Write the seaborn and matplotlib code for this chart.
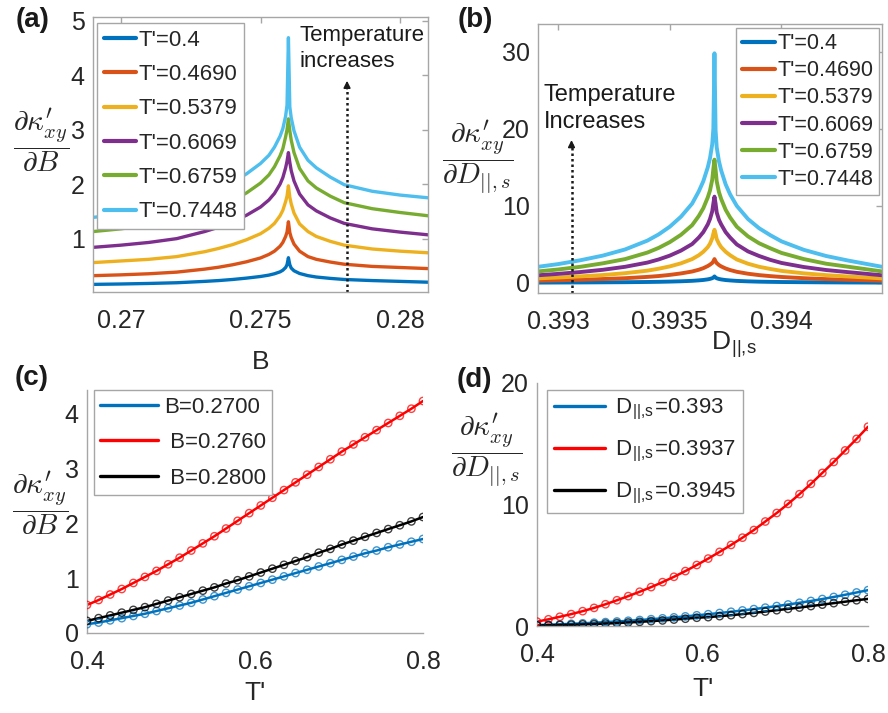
import matplotlib
matplotlib.use('Agg')
import matplotlib.pyplot as plt
import seaborn as sns

# ---------------- data ----------------
# panel (a): d kappa / dB vs B for six temperatures
B_grid = [0.269, 0.270, 0.271, 0.272, 0.273, 0.2735, 0.274, 0.2745, 0.275, 0.2753,
          0.2755, 0.2757, 0.2758, 0.2759, 0.27595, 0.2760, 0.27605, 0.2761, 0.2762,
          0.2764, 0.2767, 0.277, 0.2775, 0.278, 0.279, 0.280, 0.281]
a_T0400 = [0.16, 0.167, 0.177, 0.19, 0.215, 0.23, 0.25, 0.275, 0.305, 0.33, 0.355, 0.39,
           0.42, 0.47, 0.52, 0.65, 0.52, 0.46, 0.41, 0.36, 0.32, 0.295, 0.27, 0.25, 0.23,
           0.215, 0.20]
a_T0469 = [0.32, 0.335, 0.355, 0.385, 0.44, 0.475, 0.52, 0.575, 0.645, 0.71, 0.77, 0.86,
           0.93, 1.04, 1.12, 1.31, 1.11, 1.02, 0.90, 0.77, 0.67, 0.62, 0.57, 0.53, 0.49,
           0.47, 0.45]
a_T0538 = [0.56, 0.59, 0.62, 0.67, 0.76, 0.82, 0.89, 0.98, 1.09, 1.19, 1.28, 1.42, 1.52,
           1.68, 1.78, 1.97, 1.76, 1.64, 1.47, 1.27, 1.13, 1.04, 0.95, 0.88, 0.81, 0.77,
           0.74]
a_T0607 = [0.84, 0.88, 0.93, 1.00, 1.13, 1.21, 1.31, 1.43, 1.58, 1.71, 1.83, 2.00, 2.12,
           2.30, 2.42, 2.58, 2.40, 2.25, 2.06, 1.82, 1.62, 1.51, 1.38, 1.28, 1.18, 1.12,
           1.07]
a_T0676 = [1.13, 1.18, 1.25, 1.33, 1.49, 1.59, 1.70, 1.84, 2.02, 2.17, 2.32, 2.52, 2.65,
           2.87, 3.00, 3.20, 2.98, 2.81, 2.58, 2.29, 2.06, 1.93, 1.78, 1.66, 1.55, 1.48,
           1.42]
a_T0745 = [1.39, 1.45, 1.53, 1.62, 1.80, 1.91, 2.04, 2.19, 2.38, 2.53, 2.68, 2.88, 3.02,
           3.25, 3.45, 4.69, 3.42, 3.22, 2.98, 2.68, 2.44, 2.30, 2.13, 1.99, 1.87, 1.80,
           1.75]
a_series = [a_T0400, a_T0469, a_T0538, a_T0607, a_T0676, a_T0745]
T_labels = ["T'=0.4", "T'=0.4690", "T'=0.5379", "T'=0.6069", "T'=0.6759", "T'=0.7448"]

# panel (b): d kappa / dD vs D
D_grid = [0.39291, 0.3930, 0.3931, 0.3932, 0.3933, 0.3934, 0.39345, 0.3935, 0.39355,
          0.3936, 0.39363, 0.39365, 0.39367, 0.39368, 0.39369, 0.393695, 0.3937,
          0.393705, 0.39371, 0.39372, 0.39373, 0.39375, 0.39377, 0.3938, 0.39385,
          0.3939, 0.39395, 0.3940, 0.3941, 0.3942, 0.3943, 0.39445]
b_T0400 = [0.05, 0.06, 0.07, 0.085, 0.10, 0.13, 0.15, 0.18, 0.22, 0.28, 0.34, 0.39, 0.47,
           0.53, 0.62, 0.70, 0.85, 0.70, 0.61, 0.52, 0.46, 0.38, 0.33, 0.27, 0.21, 0.17,
           0.145, 0.125, 0.10, 0.08, 0.065, 0.05]
b_T0469 = [0.30, 0.35, 0.42, 0.51, 0.62, 0.79, 0.90, 1.05, 1.24, 1.49, 1.72, 1.92, 2.20,
           2.38, 2.60, 2.80, 3.10, 2.80, 2.58, 2.33, 2.15, 1.88, 1.68, 1.45, 1.20, 1.02,
           0.89, 0.78, 0.62, 0.50, 0.41, 0.30]
b_T0538 = [0.60, 0.71, 0.86, 1.03, 1.27, 1.60, 1.85, 2.15, 2.55, 3.10, 3.60, 4.05, 4.65,
           5.10, 5.80, 6.40, 6.90, 6.35, 5.70, 5.10, 4.65, 4.05, 3.60, 3.05, 2.50, 2.10,
           1.82, 1.57, 1.25, 1.02, 0.84, 0.60]
b_T0607 = [1.00, 1.18, 1.42, 1.71, 2.10, 2.65, 3.05, 3.55, 4.20, 5.05, 5.90, 6.60, 7.60,
           8.30, 9.30, 10.3, 11.2, 10.3, 9.15, 8.20, 7.60, 6.60, 5.90, 5.00, 4.10, 3.50,
           3.00, 2.60, 2.07, 1.68, 1.40, 1.00]
b_T0676 = [1.50, 1.75, 2.10, 2.55, 3.10, 3.95, 4.55, 5.30, 6.25, 7.50, 8.70, 9.70, 11.1,
           12.0, 13.4, 14.8, 16.0, 14.7, 13.2, 11.8, 10.9, 9.50, 8.50, 7.30, 6.05, 5.15,
           4.50, 3.90, 3.10, 2.50, 2.10, 1.50]
b_T0745 = [2.10, 2.45, 2.95, 3.55, 4.35, 5.50, 6.30, 7.30, 8.60, 10.3, 11.9, 13.2, 15.0,
           16.2, 18.0, 20.0, 29.8, 19.8, 17.6, 15.8, 14.6, 12.8, 11.5, 10.0, 8.30, 7.10,
           6.20, 5.40, 4.30, 3.50, 2.90, 2.10]
b_series = [b_T0400, b_T0469, b_T0538, b_T0607, b_T0676, b_T0745]

# panels (c), (d): versus temperature
T_grid = [0.4, 0.4138, 0.4276, 0.4414, 0.4552, 0.4690, 0.4828, 0.4966, 0.5103, 0.5241,
          0.5379, 0.5517, 0.5655, 0.5793, 0.5931, 0.6069, 0.6207, 0.6345, 0.6483, 0.6621,
          0.6759, 0.6897, 0.7034, 0.7172, 0.7310, 0.7448, 0.7586, 0.7724, 0.7862, 0.8]
c_B02700 = [0.16, 0.19, 0.23, 0.27, 0.31, 0.35, 0.40, 0.45, 0.50, 0.55, 0.61, 0.67, 0.73,
            0.79, 0.85, 0.91, 0.97, 1.03, 1.09, 1.15, 1.21, 1.27, 1.33, 1.39, 1.45, 1.50,
            1.56, 1.61, 1.66, 1.71]
c_B02760 = [0.51, 0.60, 0.70, 0.80, 0.91, 1.02, 1.13, 1.25, 1.37, 1.50, 1.63, 1.76, 1.90,
            2.04, 2.18, 2.32, 2.46, 2.60, 2.74, 2.88, 3.02, 3.16, 3.30, 3.43, 3.56, 3.69,
            3.82, 3.95, 4.08, 4.22]
c_B02800 = [0.22, 0.27, 0.32, 0.37, 0.42, 0.47, 0.53, 0.59, 0.65, 0.71, 0.77, 0.83, 0.90,
            0.96, 1.03, 1.10, 1.17, 1.24, 1.31, 1.38, 1.46, 1.53, 1.61, 1.68, 1.75, 1.82,
            1.89, 1.96, 2.03, 2.11]
d_D0393 = [0.08, 0.10, 0.14, 0.18, 0.22, 0.27, 0.32, 0.37, 0.43, 0.49, 0.56, 0.63, 0.71,
           0.79, 0.88, 0.97, 1.07, 1.17, 1.28, 1.39, 1.51, 1.64, 1.77, 1.91, 2.06, 2.22,
           2.39, 2.57, 2.76, 2.95]
d_D03937 = [0.36, 0.55, 0.76, 0.98, 1.22, 1.49, 1.79, 2.12, 2.46, 2.82, 3.20, 3.61, 4.05,
            4.52, 5.02, 5.55, 6.10, 6.67, 7.27, 7.90, 8.60, 9.30, 10.05, 10.85, 11.7, 12.6,
            13.5, 14.45, 15.4, 16.4]
d_D03945 = [0.05, 0.06, 0.08, 0.10, 0.13, 0.16, 0.20, 0.24, 0.29, 0.34, 0.40, 0.46, 0.53,
            0.60, 0.68, 0.73, 0.81, 0.89, 0.98, 1.08, 1.19, 1.30, 1.41, 1.52, 1.64, 1.76,
            1.88, 2.00, 2.12, 2.23]
c_labels = ["B=0.2700", " B=0.2760", " B=0.2800"]
sub = r"D$_{\mathregular{||,\!s}}$"
d_labels = [sub + "=0.393", sub + "=0.3937", sub + "=0.3945"]

# ---------------- style ----------------
sns.set_theme(style='white')
plt.rcParams['font.family'] = ['Liberation Sans', 'DejaVu Sans']
plt.rcParams['mathtext.fontset'] = 'cm'
plt.rcParams['xtick.direction'] = 'in'
plt.rcParams['ytick.direction'] = 'in'

matlab6 = ['#0072BD', '#D95319', '#EDB120', '#7E2F8E', '#77AC30', '#4DBEEE']
trio = ['#0072BD', '#FF0000', '#000000']
spine_c = '#a6a6a6'
txt_c = '#262626'

W, H = 888, 713
fig = plt.figure(figsize=(W / 100, H / 100), dpi=100)


def px_axes(l, t, r, b):
    return fig.add_axes([l / W, 1 - b / H, (r - l) / W, (b - t) / H])


def style_axes(ax, box=True):
    for name, sp in ax.spines.items():
        sp.set_color(spine_c)
        sp.set_linewidth(1.0)
        if not box and name in ('top', 'right'):
            sp.set_visible(False)
    ax.tick_params(axis='both', labelsize=18, colors=spine_c, labelcolor=txt_c,
                   length=4, width=1, top=box, right=box)
    ax.tick_params(axis='x', pad=12)
    ax.tick_params(axis='y', pad=6)
    ax.set_xlabel('')
    ax.set_ylabel('')


frac_kw = dict(fontsize=21, ha='center', va='center', color=txt_c)
leg_kw = dict(borderaxespad=0, fancybox=False, framealpha=1, edgecolor=spine_c)

# ---------------- (a) ----------------
axa = px_axes(93, 17, 428, 292)
for vals, c, lab in zip(a_series, matlab6, T_labels):
    sns.lineplot(x=B_grid, y=vals, ax=axa, color=c, lw=2.4, label=lab, sort=False)
axa.set_xlim(0.269, 0.281)
axa.set_ylim(0.02, 5.07)
axa.set_xticks([0.27, 0.275, 0.28])
axa.set_xticklabels(['0.27', '0.275', '0.28'])
axa.set_yticks([1, 2, 3, 4, 5])
style_axes(axa)
leg = axa.legend(loc='upper left', bbox_to_anchor=(0.012, 0.978), fontsize=16,
                 handlelength=1.45, handletextpad=0.1, labelspacing=0.6, borderpad=0.3,
                 **leg_kw)
for h in leg.get_lines():
    h.set_linewidth(3)
axa.vlines(0.2781, 0.02, 3.8, colors='k', linestyles=(0, (1, 1.2)), lw=1.8)
axa.annotate('', xy=(0.2781, 3.95), xytext=(0.2781, 3.7),
             arrowprops=dict(arrowstyle='-|>', color='k', lw=1.2, mutation_scale=10))
axa.text(0.2764, 4.49, 'Temperature\nincreases', fontsize=16, va='center', ha='left',
         linespacing=1.35, color='k')

# ---------------- (b) ----------------
axb = px_axes(538, 24, 882, 293)
for vals, c, lab in zip(b_series, matlab6, T_labels):
    sns.lineplot(x=D_grid, y=vals, ax=axb, color=c, lw=2.8, label=lab, sort=False)
axb.set_xlim(0.39291, 0.39445)
axb.set_ylim(-1.3, 33.6)
axb.set_xticks([0.393, 0.3935, 0.394])
axb.set_xticklabels(['0.393', '0.3935', '0.394'])
axb.set_yticks([0, 10, 20, 30])
style_axes(axb)
leg = axb.legend(loc='upper right', bbox_to_anchor=(0.99, 0.985), fontsize=15.5,
                 handlelength=1.55, handletextpad=0.1, labelspacing=0.28, borderpad=0.25,
                 **leg_kw)
for h in leg.get_lines():
    h.set_linewidth(3)
axb.vlines(0.39306, -1.3, 18.0, colors='k', linestyles=(0, (1, 1.2)), lw=1.8)
axb.annotate('', xy=(0.39306, 18.9), xytext=(0.39306, 17.5),
             arrowprops=dict(arrowstyle='-|>', color='k', lw=1.2, mutation_scale=10))
axb.text(0.392935, 22.6, 'Temperature\nIncreases', fontsize=17, va='center', ha='left',
         linespacing=1.3, color='k')

# ---------------- (c) ----------------
axc = px_axes(87, 390, 423, 633)
for vals, c, lab in zip([c_B02700, c_B02760, c_B02800], trio, c_labels):
    sns.lineplot(x=T_grid, y=vals, ax=axc, color=c, lw=1.8, label=lab)
    sns.scatterplot(x=T_grid, y=vals, ax=axc, marker='o', s=28, facecolors='none',
                    edgecolor=c, linewidth=1.0, alpha=0.75, legend=False, zorder=3)
axc.set_xlim(0.4, 0.8)
axc.set_ylim(0, 4.42)
axc.set_xticks([0.4, 0.6, 0.8])
axc.set_yticks([0, 1, 2, 3, 4])
style_axes(axc, box=False)
leg = axc.legend(loc='upper left', bbox_to_anchor=(0.02, 1.0), fontsize=16,
                 handlelength=2.6, handletextpad=0.25, labelspacing=0.65, borderpad=0.3,
                 **leg_kw)
for h in leg.get_lines():
    h.set_linewidth(2.4)

# ---------------- (d) ----------------
axd = px_axes(537, 383, 868, 626)
for vals, c, lab in zip([d_D0393, d_D03937, d_D03945], trio, d_labels):
    sns.lineplot(x=T_grid, y=vals, ax=axd, color=c, lw=1.8, label=lab)
    sns.scatterplot(x=T_grid, y=vals, ax=axd, marker='o', s=28, facecolors='none',
                    edgecolor=c, linewidth=1.0, alpha=0.75, legend=False, zorder=3)
axd.set_xlim(0.4, 0.8)
axd.set_ylim(0, 20)
axd.set_xticks([0.4, 0.6, 0.8])
axd.set_yticks([0, 10, 20])
style_axes(axd, box=False)
leg = axd.legend(loc='upper left', bbox_to_anchor=(0.03, 0.97), fontsize=16,
                 handlelength=2.3, handletextpad=0.45, labelspacing=0.75, borderpad=0.3,
                 **leg_kw)
for h in leg.get_lines():
    h.set_linewidth(2.4)

# ---------------- labels ----------------
def ftext(x, y, s, **kw):
    fig.text(x / W, 1 - y / H, s, **kw)

ftext(41, 140, r'$\dfrac{\partial \kappa^{\prime}_{xy}}{\partial B}$', **frac_kw)
ftext(478, 157, r'$\dfrac{\partial \kappa^{\prime}_{xy}}{\partial D_{||,s}}$', **frac_kw)
ftext(40, 503, r'$\dfrac{\partial \kappa^{\prime}_{xy}}{\partial B}$', **frac_kw)
ftext(487, 450, r'$\dfrac{\partial \kappa^{\prime}_{xy}}{\partial D_{||,s}}$', **frac_kw)

ftext(261, 362, 'B', fontsize=19, ha='center', va='center', color=txt_c)
ftext(711, 345, sub, fontsize=19, ha='left', va='center', color=txt_c)
ftext(255, 693, "T'", fontsize=19, ha='center', va='center', color=txt_c)
ftext(703, 689, "T'", fontsize=19, ha='center', va='center', color=txt_c)

for x, y, s in [(33, 20, '(a)'), (475, 20, '(b)'), (32, 378, '(c)'), (474, 380, '(d)')]:
    ftext(x, y, s, fontsize=20, fontweight='bold', ha='center', va='center', color='k')

fig.savefig('out.png', dpi=100)
